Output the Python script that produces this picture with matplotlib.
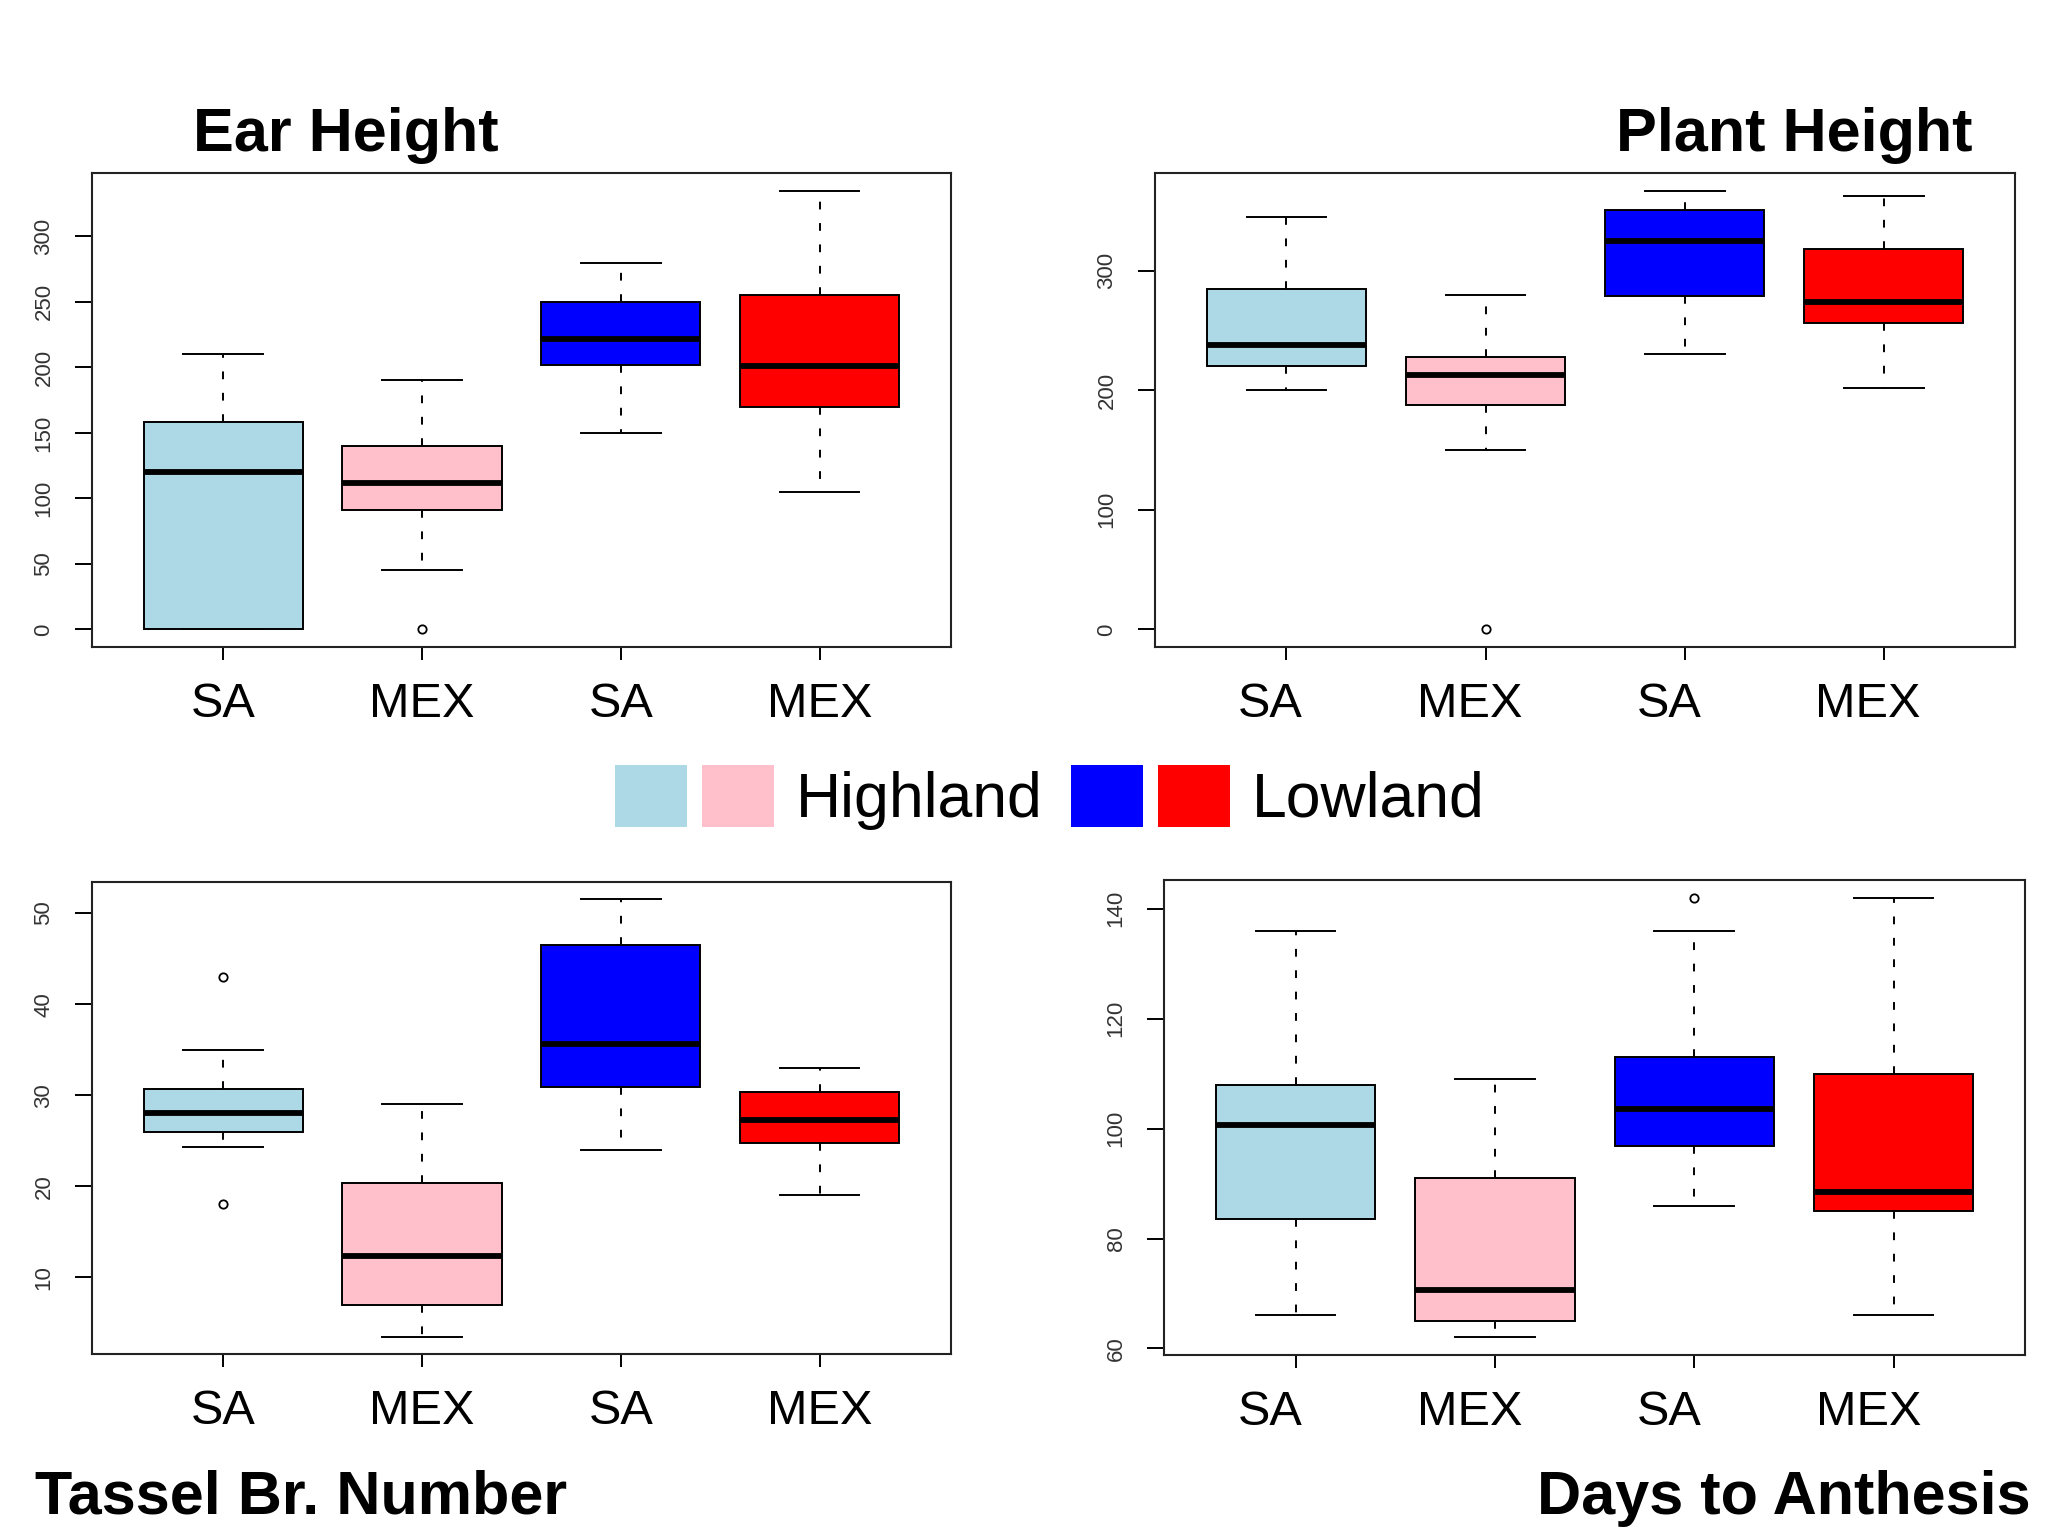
import matplotlib
matplotlib.use("Agg")
import matplotlib.pyplot as plt
import matplotlib.transforms as mtransforms
from matplotlib.patches import Patch
from matplotlib.legend_handler import HandlerTuple
import numpy as np

plt.rcParams['font.family'] = ['Liberation Sans', 'DejaVu Sans']

# groups: highland SA, highland MEX, lowland SA, lowland MEX
groups = ["SA", "MEX", "SA", "MEX"]
box_colors = ["lightblue", "pink", "blue", "red"]

# five number summaries per box: [lower whisker, Q1, median, Q3, upper whisker]
ear_height = [[0, 0, 120, 158, 210],
              [45, 91, 112, 140, 190],
              [150, 202, 222, 250, 280],
              [105, 170, 201, 255, 335]]
ear_fliers = [[], [0], [], []]
ear_ticks = [0, 50, 100, 150, 200, 250, 300]

plant_height = [[200, 220, 238, 285, 345],
                [150, 188, 213, 228, 280],
                [230, 279, 325, 351, 367],
                [202, 256, 274, 318, 362]]
plant_fliers = [[], [0], [], []]
plant_ticks = [0, 100, 200, 300]

tassel_br = [[24.3, 26, 28, 30.7, 35],
             [3.5, 7, 12.3, 20.4, 29],
             [24, 30.9, 35.6, 46.5, 51.5],
             [19, 24.75, 27.3, 30.35, 33]]
tassel_fliers = [[43, 18], [], [], []]
tassel_ticks = [10, 20, 30, 40, 50]

days_anthesis = [[66, 83.5, 100.6, 108, 136],
                 [62, 65, 70.6, 91.1, 109],
                 [86, 96.9, 103.6, 113, 136],
                 [66, 85, 88.5, 110, 142]]
days_fliers = [[], [], [142], []]
days_ticks = [60, 80, 100, 120, 140]

fig = plt.figure(figsize=(20.48, 15.36), dpi=100)
fig.patch.set_facecolor("white")


def draw_panel(rect, summary, fliers, yticks, label_shift=0):
    ax = fig.add_axes(rect)
    stats = []
    for name, s, f in zip(groups, summary, fliers):
        stats.append({"label": name, "whislo": s[0], "q1": s[1], "med": s[2],
                      "q3": s[3], "whishi": s[4], "fliers": f})
    bp = ax.bxp(stats, positions=[1, 2, 3, 4], widths=0.8, capwidths=0.4,
                patch_artist=True, showfliers=True,
                boxprops=dict(linewidth=1.4, edgecolor="black"),
                medianprops=dict(linewidth=4.2, color="black", solid_capstyle="butt"),
                whiskerprops=dict(linewidth=1.4, color="black", linestyle=(0, (4, 7))),
                capprops=dict(linewidth=1.4, color="black"),
                flierprops=dict(marker="o", markersize=6, markerfacecolor="none",
                                markeredgecolor="black", markeredgewidth=1.3))
    for patch, c in zip(bp["boxes"], box_colors):
        patch.set_facecolor(c)

    # R style axis range: data range plus 4%
    vals = [v for s in summary for v in s] + [v for f in fliers for v in f]
    lo, hi = min(vals), max(vals)
    ext = (hi - lo) * 0.04
    ax.set_ylim(lo - ext, hi + ext)
    ax.set_xlim(0.34, 4.66)

    ax.set_yticks(yticks)
    ax.set_yticklabels([str(t) for t in yticks], rotation=90, va="center",
                       fontsize=16, color="#333333")
    ax.tick_params(axis="y", length=12, width=1.4, pad=15)
    ax.tick_params(axis="x", length=9.5, width=1.4, pad=16, labelsize=35)
    for sp in ax.spines.values():
        sp.set_linewidth(1.5)
        sp.set_color("#222222")
    if label_shift:
        off = mtransforms.ScaledTranslation(label_shift / 100, 0, fig.dpi_scale_trans)
        for lbl in ax.get_xticklabels():
            lbl.set_transform(lbl.get_transform() + off)
    return ax


draw_panel([0.0449, 0.5788, 0.4194, 0.3086], ear_height, ear_fliers, ear_ticks)
draw_panel([0.5640, 0.5788, 0.4200, 0.3086], plant_height, plant_fliers, plant_ticks, -16)
draw_panel([0.0449, 0.1185, 0.4194, 0.3073], tassel_br, tassel_fliers, tassel_ticks)
draw_panel([0.5684, 0.1178, 0.4204, 0.3092], days_anthesis, days_fliers, days_ticks, -25)

# panel titles
fig.text(0.0942, 0.9017, "Ear Height", fontsize=44, fontweight="bold", ha="left", va="baseline")
fig.text(0.9629, 0.9017, "Plant Height", fontsize=44, fontweight="bold", ha="right", va="baseline")
fig.text(0.0171, 0.0145, "Tassel Br. Number", fontsize=44, fontweight="bold", ha="left", va="baseline")
fig.text(0.9917, 0.0145, "Days to Anthesis", fontsize=44, fontweight="bold", ha="right", va="baseline")

# shared legend
high = (Patch(facecolor=box_colors[0], edgecolor="none"), Patch(facecolor=box_colors[1], edgecolor="none"))
low = (Patch(facecolor=box_colors[2], edgecolor="none"), Patch(facecolor=box_colors[3], edgecolor="none"))
fig.legend([high, low], ["Highland", "Lowland"], ncol=2, loc="center",
           bbox_to_anchor=(0.5127, 0.481), frameon=False, fontsize=45,
           handler_map={tuple: HandlerTuple(ndivide=None, pad=0.24)},
           handleheight=1.15, handlelength=2.55, handletextpad=0.35,
           columnspacing=0.45, borderpad=0)

fig.savefig("out.png", dpi=100, facecolor="white")
